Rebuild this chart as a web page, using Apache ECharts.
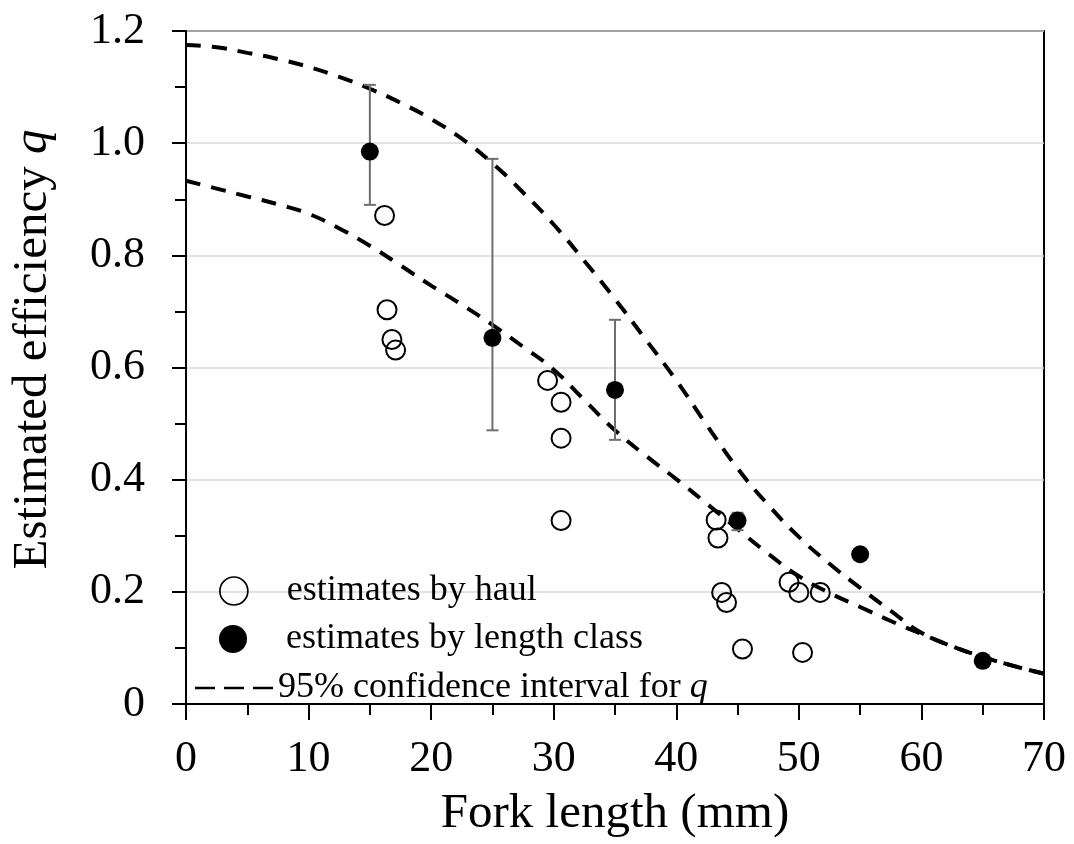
<!DOCTYPE html>
<html>
<head>
<meta charset="utf-8">
<script src="https://cdn.jsdelivr.net/npm/echarts@6/dist/echarts.min.js"></script>
<style>
  html, body { margin: 0; padding: 0; background: #fff; }
  #chart { width: 1074px; height: 844px; }
</style>
</head>
<body>
<div id="chart"></div>
<script>
// Efficiency estimates by individual haul
const haulLength = [16.2, 16.4, 16.8, 17.1, 29.5, 30.6, 30.6, 30.6, 43.25, 43.4, 43.7, 44.1, 45.4, 49.2, 50.0, 51.75, 50.3];
const haulQ      = [0.871, 0.703, 0.650, 0.631, 0.577, 0.538, 0.474, 0.327, 0.328, 0.296, 0.199, 0.181, 0.098, 0.217, 0.199, 0.199, 0.092];

// Efficiency estimates by 10 mm length class, with their intervals
const classLength = [15, 25, 35, 45, 55, 65];
const classQ      = [0.985, 0.653, 0.560, 0.327, 0.267, 0.077];
const classLow    = [0.890, 0.488, 0.471, 0.310, null, null];
const classHigh   = [1.104, 0.972, 0.685, 0.341, null, null];

// 95% confidence band for q along fork length
const bandLength = [0, 2.5, 5, 7.5, 10, 12.5, 15, 17.5, 20, 22.5, 25, 27.5, 30, 32.5, 35, 37.5, 40, 42.5, 45, 47.5, 50, 52.5, 55, 57.5, 60, 62.5, 65, 67.5, 70];
const bandUpper  = [1.175, 1.171, 1.161, 1.150, 1.136, 1.118, 1.097, 1.072, 1.043, 1.008, 0.964, 0.912, 0.855, 0.790, 0.722, 0.650, 0.577, 0.497, 0.420, 0.355, 0.298, 0.250, 0.207, 0.166, 0.127, 0.103, 0.084, 0.068, 0.054];
const bandLower  = [0.933, 0.919, 0.905, 0.891, 0.874, 0.848, 0.817, 0.782, 0.746, 0.712, 0.676, 0.637, 0.596, 0.542, 0.488, 0.443, 0.401, 0.357, 0.312, 0.268, 0.228, 0.198, 0.173, 0.148, 0.125, 0.103, 0.084, 0.068, 0.054];

// Axis ticks
const xTicks = { min: 0, max: 70, step: 10 };
const yTicks = { min: 0, max: 1.2, step: 0.2 };

const FONT = "'Liberation Serif', 'Times New Roman', serif";
const BAND_NAME = '95% confidence interval for q';
const HAUL_NAME = 'estimates by haul';
const CLASS_NAME = 'estimates by length class';

// three short dashes for the band's legend key (invisible corner specks keep the 78x28 box)
const DASH_ICON = 'path://M0,0h0.01v0.01h-0.01z M77.99,27.99h0.01v0.01h-0.01z ' +
  'M0,12.8h20v2.4h-20z M29,12.8h20v2.4h-20z M58,12.8h20v2.4h-20z';

const zip = (xs, ys) => xs.map((x, i) => [x, ys[i]]);

const chart = echarts.init(document.getElementById('chart'), null, { renderer: 'canvas' });

const bandStyle = { color: '#000', width: 4, type: [15, 11] };

chart.setOption({
  animation: false,
  backgroundColor: '#fff',
  grid: {
    left: 186, right: 30, top: 31, bottom: 138,
    show: true, borderColor: '#000', borderWidth: 2, backgroundColor: 'transparent'
  },
  xAxis: {
    type: 'value',
    min: xTicks.min, max: xTicks.max, interval: xTicks.step,
    name: 'Fork length (mm)',
    nameLocation: 'middle',
    nameGap: 86,
    nameTextStyle: { fontFamily: FONT, fontSize: 49, color: '#000' },
    axisLine: { show: true, onZero: false, lineStyle: { color: '#000', width: 2 } },
    axisTick: { show: true, inside: false, length: 16, lineStyle: { color: '#000', width: 2 } },
    minorTick: { show: true, splitNumber: 2, length: 11, lineStyle: { color: '#000', width: 2 } },
    axisLabel: { fontFamily: FONT, fontSize: 44, color: '#000', margin: 33 },
    splitLine: { show: false }
  },
  yAxis: {
    type: 'value',
    min: yTicks.min, max: yTicks.max, interval: yTicks.step,
    name: 'Estimated efficiency {i|q}',
    nameLocation: 'middle',
    nameGap: 128,
    nameTextStyle: {
      fontFamily: FONT, fontSize: 49, color: '#000',
      padding: [0, 0, 0, 36],
      rich: { i: { fontFamily: FONT, fontSize: 49, fontStyle: 'italic', color: '#000' } }
    },
    axisLine: { show: true, onZero: false, lineStyle: { color: '#000', width: 2 } },
    axisTick: { show: true, inside: false, length: 14, lineStyle: { color: '#000', width: 2 } },
    minorTick: { show: true, splitNumber: 2, length: 11, lineStyle: { color: '#000', width: 2 } },
    axisLabel: {
      fontFamily: FONT, fontSize: 44, color: '#000', margin: 41,
      formatter: v => (v === 0 ? '0' : v.toFixed(1))
    },
    splitLine: { show: true, lineStyle: { color: '#d9d9d9', width: 1.5 } }
  },
  legend: [
    {
      selectedMode: false,
      left: 214, top: 568, orient: 'vertical',
      itemWidth: 28, itemHeight: 28,
      data: [{ name: HAUL_NAME, icon: 'circle', itemStyle: { color: 'rgba(0,0,0,0)', borderColor: '#000', borderWidth: 1.7 } }],
      textStyle: { fontFamily: FONT, fontSize: 36, color: '#000', padding: [0, 0, 0, 34] }
    },
    {
      selectedMode: false,
      left: 214, top: 616, orient: 'vertical',
      itemWidth: 28, itemHeight: 28,
      data: [{ name: CLASS_NAME, icon: 'circle', itemStyle: { color: '#000', borderWidth: 0 } }],
      textStyle: { fontFamily: FONT, fontSize: 36, color: '#000', padding: [0, 0, 0, 34] }
    },
    {
      selectedMode: false,
      left: 190, top: 665, orient: 'vertical',
      itemWidth: 78, itemHeight: 28,
      data: [{ name: BAND_NAME, icon: DASH_ICON, itemStyle: { color: '#000', borderWidth: 0 } }],
      formatter: () => '95% confidence interval for {i|q}',
      textStyle: {
        fontFamily: FONT, fontSize: 36, color: '#000',
        rich: { i: { fontFamily: FONT, fontSize: 36, fontStyle: 'italic', color: '#000' } }
      }
    }
  ],
  series: [
    {
      name: BAND_NAME, type: 'line', z: 2,
      data: zip(bandLength, bandUpper),
      smooth: 0.5,
      symbol: 'none', showSymbol: false,
      lineStyle: bandStyle, itemStyle: { color: '#000' }
    },
    {
      name: BAND_NAME, type: 'line', z: 2,
      data: zip(bandLength, bandLower),
      smooth: 0.5,
      symbol: 'none', showSymbol: false,
      lineStyle: bandStyle, itemStyle: { color: '#000' }
    },
    {
      name: 'class interval', type: 'custom', z: 3,
      data: classLength.map((x, i) => [x, classLow[i], classHigh[i]]).filter(d => d[1] != null),
      renderItem: (params, api) => {
        const x = api.value(0);
        const lo = api.coord([x, api.value(1)]);
        const hi = api.coord([x, api.value(2)]);
        const cap = 6;
        const style = { stroke: '#6e6e6e', lineWidth: 2, fill: null };
        return {
          type: 'group',
          children: [
            { type: 'line', shape: { x1: lo[0], y1: lo[1], x2: hi[0], y2: hi[1] }, style },
            { type: 'line', shape: { x1: hi[0] - cap, y1: hi[1], x2: hi[0] + cap, y2: hi[1] }, style },
            { type: 'line', shape: { x1: lo[0] - cap, y1: lo[1], x2: lo[0] + cap, y2: lo[1] }, style }
          ]
        };
      }
    },
    {
      name: HAUL_NAME, type: 'scatter', z: 4,
      data: zip(haulLength, haulQ),
      symbol: 'circle', symbolSize: 19,
      itemStyle: { color: 'rgba(0,0,0,0)', borderColor: '#000', borderWidth: 2, opacity: 1 }
    },
    {
      name: CLASS_NAME, type: 'scatter', z: 5,
      data: zip(classLength, classQ),
      symbol: 'circle', symbolSize: 18,
      itemStyle: { color: '#000', borderWidth: 0, opacity: 1 }
    }
  ]
});
</script>
</body>
</html>
